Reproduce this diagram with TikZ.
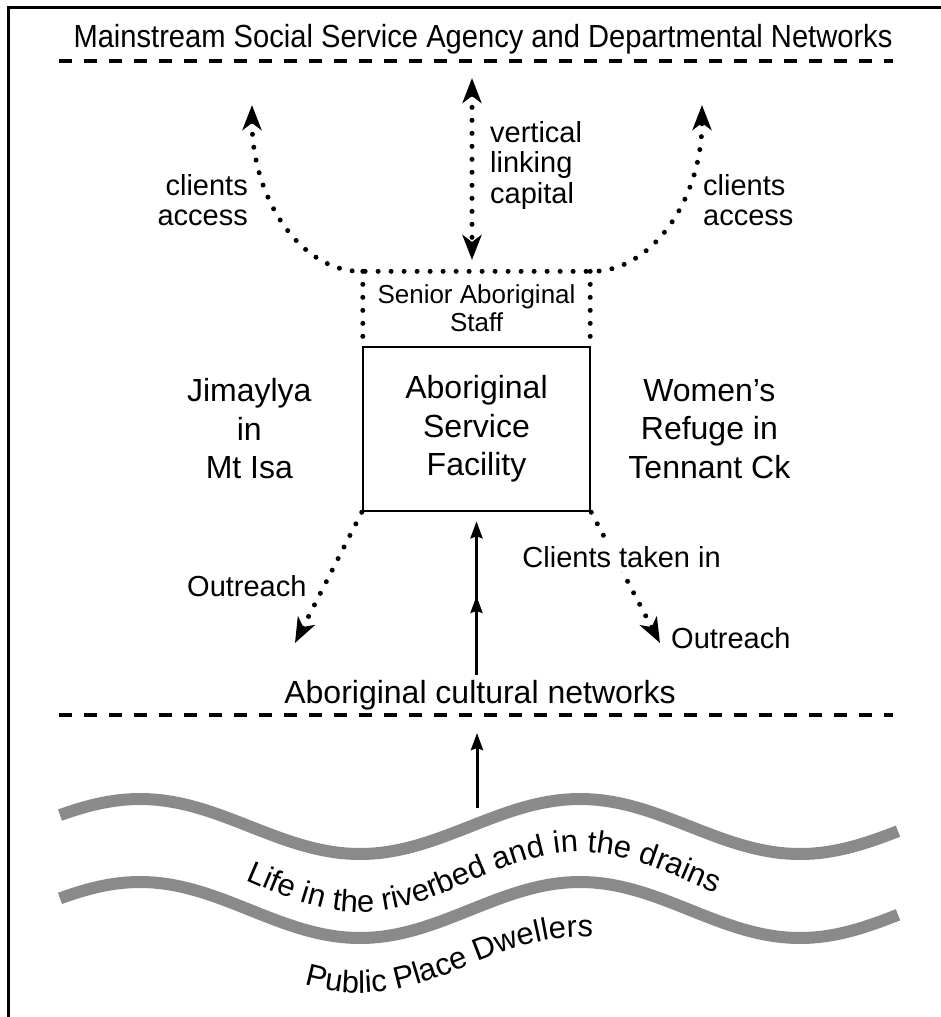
\documentclass[tikz,border=0pt]{standalone}
\usepackage{fontspec}
\setmainfont{Liberation Sans}
\newfontfamily\narrowsans[FakeStretch=0.91]{Liberation Sans}
\usetikzlibrary{arrows.meta,
                positioning,
                decorations.text,
                decorations.markings}
\definecolor{wavegray}{RGB}{138,138,138}

\begin{document}
\begin{tikzpicture}[
        x=1pt, y=-1pt,
        >={Stealth[length=25pt, width=19pt, inset=7pt]},
        smalltxt/.style={font=\fontsize{29}{30.5}\selectfont, inner sep=0pt},
        placetxt/.style={font=\fontsize{32}{38.5}\selectfont, inner sep=0pt, align=center},
        facility/.style={rectangle, draw=black, line width=2.5pt, minimum width=227pt, minimum height=164pt, align=center, font=\fontsize{32}{38.5}\selectfont},
        staffbox/.style={rectangle, minimum width=227pt, minimum height=74pt, inner sep=0pt, align=center, font=\fontsize{26}{28}\selectfont},
        dotline/.style={line width=5pt, line cap=round, dash pattern=on 0pt off 13pt},
        flow/.style={line width=3pt, -{Stealth[length=17pt, width=12pt, inset=2pt]}},
        boundary/.style={line width=3.2pt, dash pattern=on 13pt off 12pt},
        wave/.style={draw=wavegray, line width=12pt}
        ]

        \useasboundingbox (0,0) rectangle (941,1017);
        \draw [line width=3pt] (8,1017) -- (8,7) -- (941,7);

        % networks above and below
        \node (mainstream) [anchor=base, inner sep=0pt, font=\narrowsans\fontsize{32}{34}\selectfont] at (483,47) {Mainstream Social Service Agency and Departmental Networks};
        \draw [boundary] (59,61) -- (893,61);
        \node (cultnet) [placetxt, anchor=base] at (480,703) {Aboriginal cultural networks};
        \draw [boundary] (59,715) -- (893,715);

        % the facility
        \node (asf)      [facility] at (476.5,429)         {Aboriginal\\Service\\Facility};
        \node (staff)    [staffbox, above=0pt of asf]     {Senior Aboriginal\\Staff};
        \node (jimaylya) [placetxt, left=50pt of asf]     {Jimaylya\\in\\Mt Isa};
        \node (refuge)   [placetxt, right=37pt of asf]    {Women’s\\Refuge in\\Tennant Ck};

        \coordinate (captop) at (472,78);
        \coordinate (capbot) at (472,260);
        \coordinate (tipL)   at (252,105);
        \coordinate (tipR)   at (702,105);
        \coordinate (outL)   at (295,643);
        \coordinate (outR)   at (660,643);

        \draw [dotline, <->] (captop) -- (capbot);
        \node (vlc) [smalltxt, align=left, anchor=west] at (490,165) {vertical\\linking\\capital};

        \draw [dotline, <->] (tipL) .. controls (252,200) and (302,273) .. (staff.north west)
              -- (staff.north east) .. controls (651,273) and (702,200) .. (tipR);
        \draw [dotline] (staff.north west) -- (staff.south west);
        \draw [dotline] (staff.north east) -- (staff.south east);
        \node (accessL) [smalltxt, align=right, anchor=east] at (248,200) {clients\\access};
        \node (accessR) [smalltxt, align=left, anchor=west]  at (703,200) {clients\\access};

        \draw [dotline, ->] (asf.south west) -- (outL);
        \draw [dotline, ->] (asf.south east) -- node [smalltxt, pos=0.34, fill=white, inner sep=5pt, xshift=7pt] {Clients taken in} (outR);
        \node (outreachL) [smalltxt, anchor=base west] at (187,596) {Outreach};
        \node (outreachR) [smalltxt, anchor=base west] at (671,648) {Outreach};

        \draw [flow, shorten <=5pt, shorten >=9pt, postaction={decorate},
               decoration={markings, mark=at position 0.5 with {\arrow{Stealth[length=17pt, width=12pt, inset=2pt]}}}]
              (asf.south |- cultnet.north) -- (asf.south);

        % riverbed
        \coordinate (river)   at (477,808);
        \coordinate (culttip) at (477,733);
        \draw [flow] (river) -- (culttip);

        \draw [wave] plot [smooth, domain=60:898, samples=100] (\x, {826.5-27.5*cos(((\x-140)/440)*360)});
        \draw [wave] plot [smooth, domain=60:898, samples=100] (\x, {910-28*cos(((\x-140)/440)*360)});
        \path [decorate, decoration={text along path, text align=center,
               text={|\fontsize{31}{31}\selectfont|Life in the riverbed and in the drains}}]
              plot [smooth, domain=220:742, samples=60] (\x, {882-30*cos(((\x-140)/440)*360)});
        \path [decorate, decoration={text along path, text align=center,
               text={|\fontsize{31}{31}\selectfont|Public Place Dwellers}}]
              plot [smooth, domain=280:618, samples=40] (\x, {965-28*cos(((\x-140)/440)*360)});

\end{tikzpicture}
\end{document}
